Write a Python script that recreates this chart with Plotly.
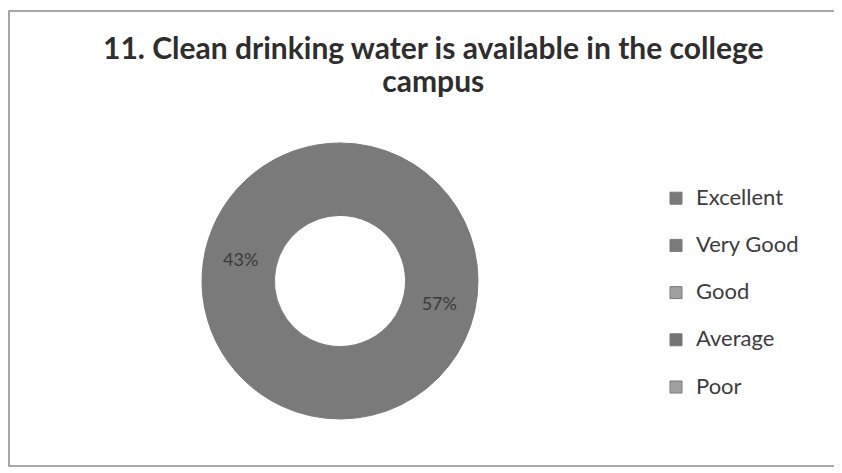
import plotly.graph_objects as go

title_lines = ["11. Clean drinking water is available in the college", "campus"]
labels = ["Excellent", "Very Good", "Good", "Average", "Poor"]
values = [57, 43, 0, 0, 0]
colors = ["#7a7a7a", "#7a7a7a", "#a0a0a0", "#737373", "#a0a0a0"]
ring_color = "#7a7a7a"

total = sum(values)
slice_text = [f"{round(v * 100 / total)}%" if v > 0 else "" for v in values]
# second blank line gives Excel-like spacing between legend entries
legend_labels = [f"<span style='font-size:22px'>{lab}</span><br> " for lab in labels]

fig = go.Figure(
    go.Pie(
        labels=legend_labels,
        values=values,
        text=slice_text,
        textinfo="text",
        textposition="inside",
        insidetextorientation="horizontal",
        textfont=dict(family="Lato", size=18, color="#3a3a3a"),
        hole=0.475,
        sort=False,
        direction="clockwise",
        rotation=0,
        marker=dict(colors=colors, line=dict(color=ring_color, width=1)),
        domain=dict(x=[0.2304, 0.5582], y=[0.1311, 0.7146]),
        hoverinfo="skip",
    )
)

title_html = "<br>".join(
    f"<span style='font-size:30px'><b>{line}</b></span>" for line in title_lines
)

fig.update_layout(
    width=842,
    height=473,
    margin=dict(l=0, r=0, t=0, b=0),
    paper_bgcolor="white",
    plot_bgcolor="white",
    showlegend=True,
    legend=dict(
        x=0.7696,
        y=0.635,
        xanchor="left",
        yanchor="top",
        valign="top",
        font=dict(family="Lato", size=17, color="#3c3c3c"),
        bgcolor="rgba(0,0,0,0)",
    ),
    annotations=[
        dict(
            text=title_html,
            x=0.505,
            y=0.8827,
            xref="paper",
            yref="paper",
            xanchor="center",
            yanchor="middle",
            showarrow=False,
            font=dict(family="Lato", size=25, color="#2e2e2e"),
        )
    ],
    shapes=[
        dict(
            type="rect",
            xref="paper",
            yref="paper",
            x0=0.0012,
            y0=0.0317,
            x1=0.986,
            y1=0.9937,
            line=dict(color="#8a8a8a", width=1.5),
        )
    ],
)

fig.write_html("out.html")
